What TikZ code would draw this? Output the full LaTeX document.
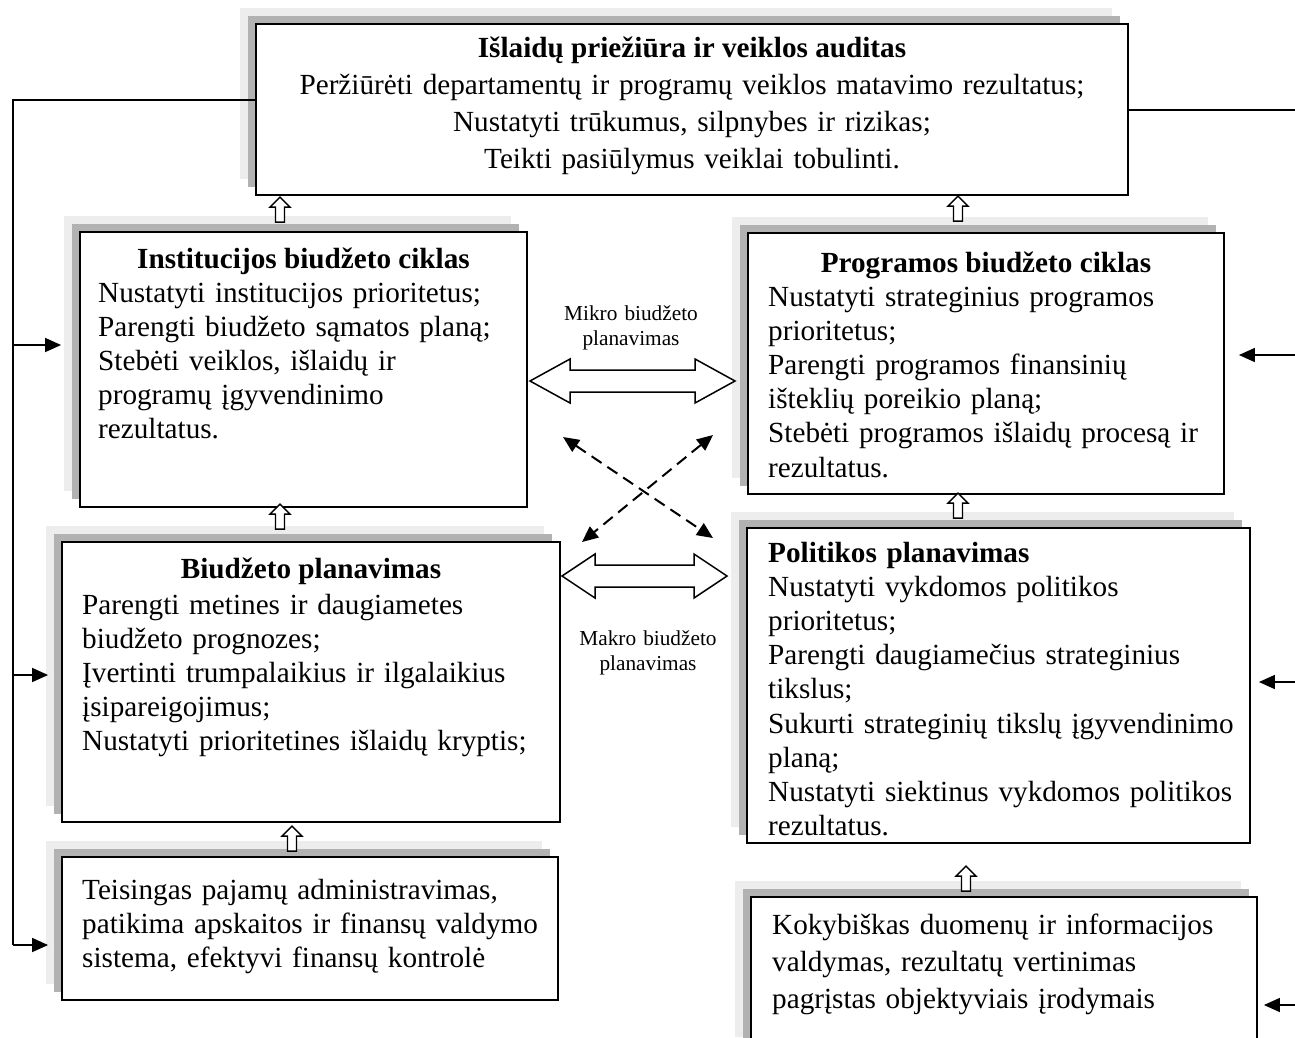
\documentclass[tikz,border=0pt]{standalone}
\usepackage{fontspec}
\setmainfont{Liberation Serif}
\usetikzlibrary{shadows,arrows.meta,calc}

\newcommand{\bodyfont}{\fontsize{29.2pt}{34.2pt}\selectfont}
\newcommand{\widefont}{\fontsize{29.2pt}{37pt}\selectfont}

\tikzset{
	box/.style={draw, fill=white, line width=1.8pt, inner sep=0pt,
		general shadow={fill=black!7, shadow xshift=-16pt, shadow yshift=16pt},
		general shadow={fill=black!30, shadow xshift=-8pt, shadow yshift=8pt}},
	head/.style={font=\bodyfont\bfseries, anchor=base, inner sep=0pt},
	body/.style={anchor=base west, inner sep=0pt, align=left, text width=#1},
	lbl/.style={font=\fontsize{21.3pt}{25pt}\selectfont, anchor=base, inner sep=0pt, align=center, text width=200pt},
	fb/.style={line width=1.5pt, -{Triangle[length=16pt,width=14pt]}},
	cross/.style={line width=2pt, dash pattern=on 12pt off 7pt, {Triangle[length=16pt,width=14pt]}-{Triangle[length=16pt,width=14pt]}},
	pics/blockup/.style={code={
		\draw[line width=1.3pt, fill=white] (-4.5,0) -- (-4.5,-15) -- (-10,-15) -- (0,-25) -- (10,-15) -- (4.5,-15) -- (4.5,0) -- cycle;}},
	pics/hollowlr/.style 2 args={code={
		\draw[line width=1.5pt, fill=white] (0,0) -- (#2,-22) -- (#2,-11) -- ({#1-#2},-11) -- ({#1-#2},-22) -- (#1,0)
			-- ({#1-#2},22) -- ({#1-#2},11) -- (#2,11) -- (#2,22) -- cycle;}}
}

\begin{document}
\begin{tikzpicture}[x=1pt, y=-1pt, font=\bodyfont]
\clip (0,0) rectangle (1295,1037);

\foreach \name/\cx/\cy/\w/\h in {audit/692/109.5/872/171, inst/303.5/369.5/447/275, prog/986/363.5/476/261,
	biud/311/682/498/280, polit/998.5/685.5/503/315, teis/310/928.5/496/143, koky/1004/975/506/156} {
	\node[box, minimum width=\w pt, minimum height=\h pt] (\name) at (\cx,\cy) {};
}

\node[head] (auditT) at (692,57) {Išlaidų priežiūra ir veiklos auditas};
\node[anchor=base, inner sep=0pt, align=center, text width=850pt, font=\widefont] (auditB) at (692,94)
	{Peržiūrėti departamentų ir programų veiklos matavimo rezultatus;\\ Nustatyti trūkumus, silpnybes ir rizikas;\\ Teikti pasiūlymus veiklai tobulinti.};

\node[head] (instT) at (303.5,268) {Institucijos biudžeto ciklas};
\node[body=440pt] (instB) at (98,302) {Nustatyti institucijos prioritetus;\\ Parengti biudžeto sąmatos planą;\\ Stebėti veiklos, išlaidų ir\\ programų įgyvendinimo\\ rezultatus.};

\node[head] (progT) at (986,272) {Programos biudžeto ciklas};
\node[body=470pt] (progB) at (768,306) {Nustatyti strateginius programos\\ prioritetus;\\ Parengti programos finansinių\\ išteklių poreikio planą;\\ Stebėti programos išlaidų procesą ir\\ rezultatus.};

\node[head] (biudT) at (311,578) {Biudžeto planavimas};
\node[body=490pt] (biudB) at (82,614) {Parengti metines ir daugiametes\\ biudžeto prognozes;\\ Įvertinti trumpalaikius ir ilgalaikius\\ įsipareigojimus;\\ Nustatyti prioritetines išlaidų kryptis;};

\node[body=490pt] (politB) at (768,562) {\textbf{Politikos planavimas}\\ Nustatyti vykdomos politikos\\ prioritetus;\\ Parengti daugiamečius strateginius\\ tikslus;\\ Sukurti strateginių tikslų įgyvendinimo\\ planą;\\ Nustatyti siektinus vykdomos politikos\\ rezultatus.};

\node[body=490pt] (teisB) at (82,899) {Teisingas pajamų administravimas,\\ patikima apskaitos ir finansų valdymo\\ sistema, efektyvi finansų kontrolė};

\node[body=490pt, font=\widefont] (kokyB) at (772,934) {Kokybiškas duomenų ir informacijos\\ valdymas, rezultatų vertinimas\\ pagrįstas objektyviais įrodymais};

\pic at ([xshift=-23.5pt, yshift=9pt]inst.north) {blockup};
\pic at ([xshift=-28pt, yshift=11pt]prog.north) {blockup};
\pic at ([xshift=-31pt, yshift=12pt]biud.north) {blockup};
\pic at ([xshift=-40.5pt, yshift=9pt]polit.north) {blockup};
\pic at ([xshift=-18pt, yshift=5pt]teis.north) {blockup};
\pic at ([xshift=-38pt, yshift=5pt]koky.north) {blockup};

\pic at (530,381) {hollowlr={205}{40}};
\pic at (562,576) {hollowlr={165}{33}};

\node[lbl] (mikroL) at (631,320) {Mikro biudžeto\\planavimas};
\node[lbl] (makroL) at (648,645) {Makro biudžeto\\planavimas};

\coordinate (c1) at (563,437);
\coordinate (c2) at (713,538);
\coordinate (c3) at (713,435);
\coordinate (c4) at (582,542);
\draw[cross] (c1) -- (c2);
\draw[cross] (c3) -- (c4);

\draw[line width=1.5pt] (audit.west |- 0,100) -- (13,100) -- (13,945);
\draw[fb, shorten >=18pt] (13,345) -- (inst.west |- 0,345);
\draw[fb, shorten >=13pt] (13,675) -- (biud.west |- 0,675);
\draw[fb, shorten >=13pt] (13,945) -- (teis.west |- 0,945);

\draw[line width=1.5pt] (audit.east |- 0,110) -- (1301,110) -- (1301,1005);
\draw[fb, shorten >=14pt] (1301,355) -- (prog.east |- 0,355);
\draw[fb, shorten >=8pt] (1301,682) -- (polit.east |- 0,682);
\draw[fb, shorten >=6pt] (1301,1005) -- (koky.east |- 0,1005);
\end{tikzpicture}
\end{document}
